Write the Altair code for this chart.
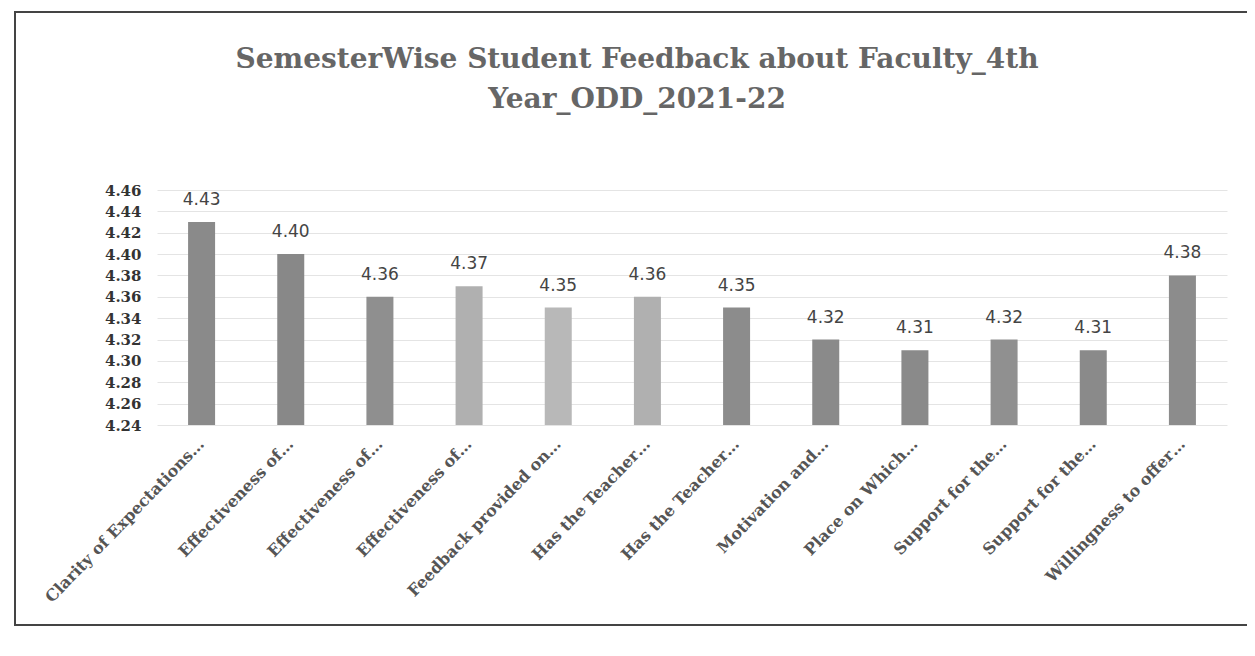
import altair as alt
import pandas as pd

categories = [
    "Clarity of Expectations…", "Effectiveness of…", "Effectiveness of… ",
    "Effectiveness of…  ", "Feedback provided on…", "Has the Teacher…",
    "Has the Teacher… ", "Motivation and…", "Place on Which…",
    "Support for the…", "Support for the… ", "Willingness to offer…",
]
values = [4.43, 4.40, 4.36, 4.37, 4.35, 4.36, 4.35, 4.32, 4.31, 4.32, 4.31, 4.38]
bar_colors = ["#8a8a8a", "#888888", "#8f8f8f", "#b0b0b0", "#b8b8b8", "#b0b0b0",
              "#8c8c8c", "#8a8a8a", "#8a8a8a", "#909090", "#8a8a8a", "#8c8c8c"]
y_ticks = [4.24, 4.26, 4.28, 4.30, 4.32, 4.34, 4.36, 4.38, 4.40, 4.42, 4.44, 4.46]
title_lines = ["SemesterWise Student Feedback about Faculty_4th", "Year_ODD_2021-22"]

df = pd.DataFrame({"cat": categories, "val": values})

W, H = 1070, 235
x = alt.X("cat:N", sort=None, title=None,
          scale=alt.Scale(paddingInner=0.0, paddingOuter=0.0),
          axis=alt.Axis(labelAngle=-46, labelFont="DejaVu Serif", labelFontWeight="bold",
                        labelFontSize=16, labelColor="#555", ticks=False, domain=False,
                        labelPadding=16, labelLimit=400, grid=False))
y = alt.Y("val:Q", title=None,
          scale=alt.Scale(domain=[4.24, 4.46], zero=False, nice=False),
          axis=alt.Axis(values=y_ticks, format=".2f", labelFont="DejaVu Serif",
                        labelFontWeight="bold", labelFontSize=15, labelColor="#333",
                        labelOverlap=False, ticks=False, domain=False, labelPadding=16,
                        gridColor="#e4e4e4", gridWidth=1))

bars = alt.Chart(df).mark_bar(size=27).encode(
    x=x, y=y, y2=alt.datum(4.24),
    color=alt.Color("cat:N", sort=None, legend=None,
                    scale=alt.Scale(domain=categories, range=bar_colors)),
)
labels = alt.Chart(df).mark_text(dy=-22, font="DejaVu Sans", fontSize=17, color="#444").encode(
    x=x, y=y, text=alt.Text("val:Q", format=".2f"))

title_layers = []
for i, line in enumerate(title_lines):
    title_layers.append(
        alt.Chart(pd.DataFrame({"t": [line]})).mark_text(
            font="DejaVu Serif", fontSize=28, fontWeight="bold", color="#666",
            align="center", baseline="middle").encode(
            text="t:N", x=alt.value(480), y=alt.value(-130 + 40 * i))
    )

frame = alt.Chart(pd.DataFrame({"a": [0]})).mark_rect(
    fill=None, stroke="#444", strokeWidth=2, clip=False).encode(
    x=alt.value(-142), x2=alt.value(1096), y=alt.value(-178), y2=alt.value(435))

chart = alt.layer(frame, bars, labels, *title_layers).properties(
    width=W, height=H,
    background="white",
    autosize=alt.AutoSizeParams(type="none"),
    padding={"left": 149, "top": 182, "right": 20, "bottom": 223},
).configure_view(strokeWidth=0, stroke="transparent")

chart.save("out.html", embed_options={"renderer": "svg", "actions": False})
